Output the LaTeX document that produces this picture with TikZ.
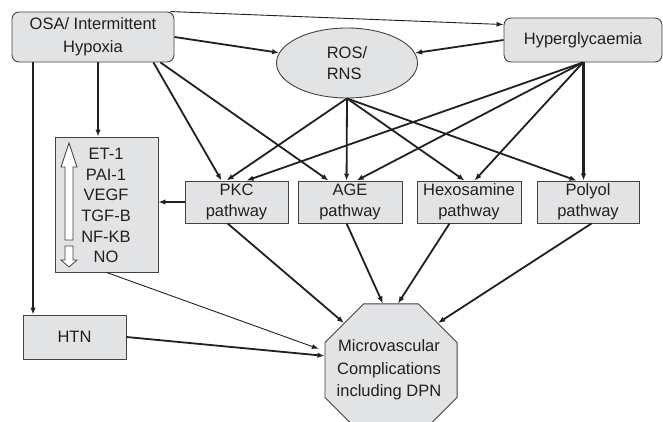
\documentclass[tikz,border=0pt]{standalone}
\usepackage{fontspec}
\setmainfont{Liberation Sans}
\usetikzlibrary{shapes.geometric,arrows.meta,calc}
\definecolor{boxfill}{RGB}{226,227,229}
\definecolor{ink}{RGB}{35,31,32}
\begin{document}
\begin{tikzpicture}[x=1pt,y=-1pt,
  font=\fontsize{16.5}{21}\selectfont,
  box/.style={draw=ink!85, line width=0.9pt, fill=boxfill, inner sep=0pt, align=center, text=ink},
  rbox/.style={box, rounded corners=7pt},
  heavyarrow/.style={draw=ink, line width=1.8pt, -{Latex[length=7pt,width=5.5pt]}},
  vertarrow/.style={heavyarrow, line width=2.1pt},
  lightarrow/.style={draw=ink, line width=0.9pt, -{Latex[length=7pt,width=5pt]}},
  hollowarrow/.style={draw=ink!85, line width=0.8pt, fill=white},
]
\useasboundingbox (0,0) rectangle (663,422);

% nodes
\node[rbox, minimum width=162pt, minimum height=50pt, font=\fontsize{16.5}{23}\selectfont] (osa) at (93,37) {OSA/ Intermittent\\Hypoxia};
\node[rbox, minimum width=158pt, minimum height=44pt] (hyper) at (583,40) {Hyperglycaemia};
\node[box, ellipse, minimum width=141pt, minimum height=70pt, align=left] (ros) at (347,63) {ROS/\\RNS};
\node[box, minimum width=103pt, minimum height=135pt] (et) at (106.5,204.5) {};
\node[text=ink, align=center, font=\fontsize{16.5}{20.7}\selectfont, inner sep=0pt] (etlist) at (106,205.5) {ET-1\\PAI-1\\VEGF\\TGF-B\\NF-KB\\NO};
\node[box, minimum width=103pt, minimum height=42pt] (pkc) at (236.5,202) {PKC\\pathway};
\node[box, minimum width=104pt, minimum height=42pt] (age) at (350,202) {AGE\\pathway};
\node[box, minimum width=104pt, minimum height=42pt] (hex) at (469,202) {Hexosamine\\pathway};
\node[box, minimum width=102pt, minimum height=42pt] (polyol) at (588,202) {Polyol\\pathway};
\node[box, minimum width=103pt, minimum height=44pt] (htn) at (74.5,337) {HTN};
\node[box, regular polygon, regular polygon sides=8, minimum size=143pt] (oct) at (391,370) {};
\node[text=ink, align=center, font=\fontsize{16.5}{22.5}\selectfont, inner sep=0pt] (octtext) at (389,370) {Microvascular\\Complications\\including DPN};

% hollow up / down arrows inside the ET box
\path[hollowarrow] (65,240) -- (65,167) -- (61,167) -- (69,143) -- (77,167) -- (73,167) -- (73,240) -- cycle;
\path[hollowarrow] (65,246) -- (73,246) -- (73,260) -- (77,260) -- (69,267) -- (61,260) -- (65,260) -- cycle;

% connectors from OSA
\draw[lightarrow] ($(osa.north east)+(-4,0)$) -- ($(hyper.north west)+(0,7)$);
\draw[heavyarrow] (osa.east) -- (ros);
\draw[vertarrow] ($(osa.south west)+(86.5,0)$) -- ($(et.north west)+(43.5,0)$);
\draw[vertarrow] ($(osa.south west)+(21.5,0)$) -- ($(htn.north west)+(10.5,0)$);
\draw[heavyarrow] ($(osa.south east)+(-21,0)$) -- ($(pkc.north west)+(37,0)$);
\draw[heavyarrow] ($(osa.south east)+(-14,0)$) -- ($(age.north west)+(31,0)$);

% hyperglycaemia
\draw[heavyarrow] (hyper.west) -- (ros);
\draw[heavyarrow] (hyper.south) -- ($(pkc.north west)+(62,0)$);
\draw[heavyarrow] (hyper.south) -- ($(age.north west)+(59,0)$);
\draw[heavyarrow] (hyper.south) -- ($(hex.north west)+(58,0)$);
\draw[vertarrow] ($(hyper.south)+(0.5,0)$) -- ($(hyper.south |- polyol.north)+(0.5,0)$);

% ROS
\draw[heavyarrow] (ros.south) -- ($(pkc.north west)+(42,0)$);
\draw[heavyarrow] (ros.south) -- ($(age.north west)+(49,0)$);
\draw[heavyarrow] (ros.south) -- ($(hex.north west)+(48,0)$);
\draw[heavyarrow] (ros.south) -- ($(polyol.north west)+(40,0)$);

% PKC to ET box
\draw[heavyarrow] (pkc.west) -- (pkc.west -| et.east);

% into the octagon
\draw[heavyarrow] ($(pkc.south west)+(43,0)$) -- (oct.135);
\draw[heavyarrow] ($(age.south west)+(49,0)$) -- (oct.97);
\draw[heavyarrow] ($(hex.south west)+(33,0)$) -- (oct.84);
\draw[heavyarrow] ($(polyol.south west)+(55,0)$) -- (oct.45);
\draw[lightarrow, shorten >=6pt] ($(et.south west)+(52,0)$) -- (oct.164);
\draw[heavyarrow] (htn.east) -- (oct.168);
\end{tikzpicture}
\end{document}
